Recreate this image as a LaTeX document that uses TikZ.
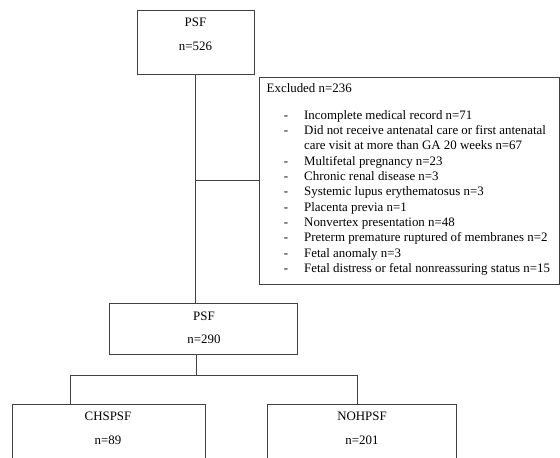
\documentclass[tikz,border=0pt]{standalone}
\usepackage{fontspec}
\setmainfont{Liberation Serif}
\definecolor{linegray}{RGB}{65,65,65}
\begin{document}
\begin{tikzpicture}[x=1pt,y=-1pt,
  box/.style={draw=linegray, line width=1pt, inner sep=0pt},
  lbl/.style={font=\fontsize{12.9}{14}\selectfont, inner sep=0pt, anchor=base},
  item/.style={font=\fontsize{12.9}{14}\selectfont, inner sep=0pt, anchor=base west},
  dsh/.style={font=\fontsize{12.9}{14}\selectfont, inner sep=0pt, anchor=base},
  conn/.style={draw=linegray, line width=1pt}]
\useasboundingbox (0,0) rectangle (560,458);
\clip (0,0) rectangle (560,458);
% boxes
\node[box, minimum width=117pt, minimum height=64pt] (top) at (195.5,42) {};
\node[box, minimum width=300pt, minimum height=207pt] (excl) at (409,180.5) {};
\node[box, minimum width=188pt, minimum height=51pt] (mid) at (203,328.5) {};
\node[box, minimum width=193pt, minimum height=70pt] (chs) at (108.5,439) {};
\node[box, minimum width=189pt, minimum height=70pt] (noh) at (361.5,439) {};
% box texts
\node[lbl] (t1) at (195.5,26.5) {PSF};
\node[lbl] (t2) at (195.5,50) {n=526};
\node[lbl] (m1) at (204,320) {PSF};
\node[lbl] (m2) at (204,343.5) {n=290};
\node[lbl] (c1) at (108,420) {CHSPSF};
\node[lbl] (c2) at (108,444) {n=89};
\node[lbl] (n1) at (362,420) {NOHPSF};
\node[lbl] (n2) at (362,444) {n=201};
% excluded text
\node[item] (eh) at (266.5,92) {Excluded n=236};
\node[dsh] (d1) at (286,119.3) {-};
\node[item] (e1) at (304,119.3) {Incomplete medical record n=71};
\node[dsh] (d2) at (286,134.6) {-};
\node[item] (e2) at (304,134.6) {Did not receive antenatal care or first antenatal};
\node[item] (e3) at (304,149.9) {care visit at more than GA 20 weeks n=67};
\node[dsh] (d4) at (286,165.2) {-};
\node[item] (e4) at (304,165.2) {Multifetal pregnancy n=23};
\node[dsh] (d5) at (286,180.5) {-};
\node[item] (e5) at (304,180.5) {Chronic renal disease n=3};
\node[dsh] (d6) at (286,195.8) {-};
\node[item] (e6) at (304,195.8) {Systemic lupus erythematosus n=3};
\node[dsh] (d7) at (286,211.1) {-};
\node[item] (e7) at (304,211.1) {Placenta previa n=1};
\node[dsh] (d8) at (286,226.4) {-};
\node[item] (e8) at (304,226.4) {Nonvertex presentation n=48};
\node[dsh] (d9) at (286,241.7) {-};
\node[item] (e9) at (304,241.7) {Preterm premature ruptured of membranes n=2};
\node[dsh] (d10) at (286,257.0) {-};
\node[item] (e10) at (304,257.0) {Fetal anomaly n=3};
\node[dsh] (d11) at (286,272.3) {-};
\node[item] (e11) at (304,272.3) {Fetal distress or fetal nonreassuring status n=15};
% connectors
\coordinate (j1) at (195.5,180);
\coordinate (j2) at (196,375);
\coordinate (jl) at (70,375);
\coordinate (jr) at (357,375);
\draw[conn] (top.south) -- (top.south |- mid.north);
\draw[conn] (j1) -- (j1 -| excl.west);
\draw[conn] (mid.south -| j2) -- (j2);
\draw[conn] (jl) -- (jr);
\draw[conn] (jl) -- (jl |- chs.north);
\draw[conn] (jr) -- (jr |- noh.north);
\end{tikzpicture}
\end{document}
